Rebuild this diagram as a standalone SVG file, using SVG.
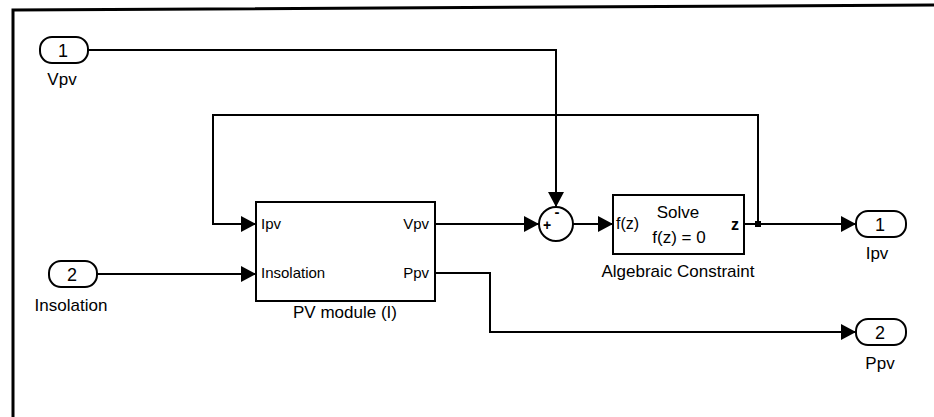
<svg xmlns="http://www.w3.org/2000/svg" width="934" height="417" viewBox="0 0 934 417">
<style>
.blk{fill:#fff;stroke:#000;stroke-width:2}
.port{fill:#fff;stroke:#000;stroke-width:2}
.ln{fill:none;stroke:#000;stroke-width:2}
.t{font-family:"Liberation Sans",Arial,sans-serif;fill:#000}
.lbl{font-size:17px;text-anchor:middle}
.pl{font-size:15px}
.num{font-size:18px;text-anchor:middle}
</style>
<defs>
<marker id="ah" viewBox="0 0 15 16" refX="15" refY="8" markerWidth="15" markerHeight="16" markerUnits="userSpaceOnUse" orient="auto">
<path d="M0,0 L15,8 L0,16 Z" fill="#000"/>
</marker>
</defs>
<rect width="934" height="417" fill="#fff"/>
<g id="frame">
<path d="M13,417 V10 L934,5" fill="none" stroke="#000" stroke-width="3"/>
</g>
<g id="connectors">
<path class="ln" d="M88,50 H556 V207" marker-end="url(#ah)"/>
<path class="ln" d="M97,274 H256" marker-end="url(#ah)"/>
<path class="ln" d="M435,224 H539" marker-end="url(#ah)"/>
<path class="ln" d="M573,224 H613" marker-end="url(#ah)"/>
<path class="ln" d="M744,224 H856" marker-end="url(#ah)"/>
<path class="ln" d="M758,224 V115 H213 V224 H256" marker-end="url(#ah)"/>
<path class="ln" d="M435,273 H490 V332 H856" marker-end="url(#ah)"/>
<rect x="755" y="221" width="6" height="6" fill="#000"/>
</g>
<g id="in1">
<rect class="port" x="40" y="37" width="48" height="26" rx="12"/>
<text class="t num" x="63" y="57">1</text>
<text class="t lbl" x="62" y="85">Vpv</text>
</g>
<g id="in2">
<rect class="port" x="49" y="261" width="48" height="26" rx="12"/>
<text class="t num" x="72" y="281">2</text>
<text class="t lbl" x="71" y="311">Insolation</text>
</g>
<g id="pvmodule">
<rect class="blk" x="256" y="202" width="179" height="99"/>
<text class="t pl" x="261" y="229">Ipv</text>
<text class="t pl" x="261" y="278">Insolation</text>
<text class="t pl" x="429" y="229" text-anchor="end">Vpv</text>
<text class="t pl" x="429" y="278" text-anchor="end">Ppv</text>
<text class="t lbl" x="345" y="318">PV module (I)</text>
</g>
<g id="sum">
<circle cx="556" cy="224" r="17" fill="#fff" stroke="#000" stroke-width="2"/>
<text class="t" x="547" y="230" font-size="14" font-weight="bold" text-anchor="middle">+</text>
<text class="t" x="557" y="217" font-size="15" font-weight="bold" text-anchor="middle">-</text>
</g>
<g id="algconstraint">
<rect class="blk" x="613" y="195" width="131" height="59"/>
<text class="t" x="616" y="229" font-size="16">f(z)</text>
<text class="t" x="678" y="218" font-size="17" text-anchor="middle">Solve</text>
<text class="t" x="679" y="243" font-size="17" text-anchor="middle">f(z) = 0</text>
<text class="t" x="739" y="230" font-size="16" font-weight="bold" text-anchor="end">z</text>
<text class="t lbl" x="678" y="277">Algebraic Constraint</text>
</g>
<g id="out1">
<rect class="port" x="856" y="211" width="50" height="26" rx="12"/>
<text class="t num" x="880" y="231">1</text>
<text class="t lbl" x="877" y="259">Ipv</text>
</g>
<g id="out2">
<rect class="port" x="856" y="319" width="50" height="26" rx="12"/>
<text class="t num" x="880" y="339">2</text>
<text class="t lbl" x="880" y="369">Ppv</text>
</g>
</svg>
